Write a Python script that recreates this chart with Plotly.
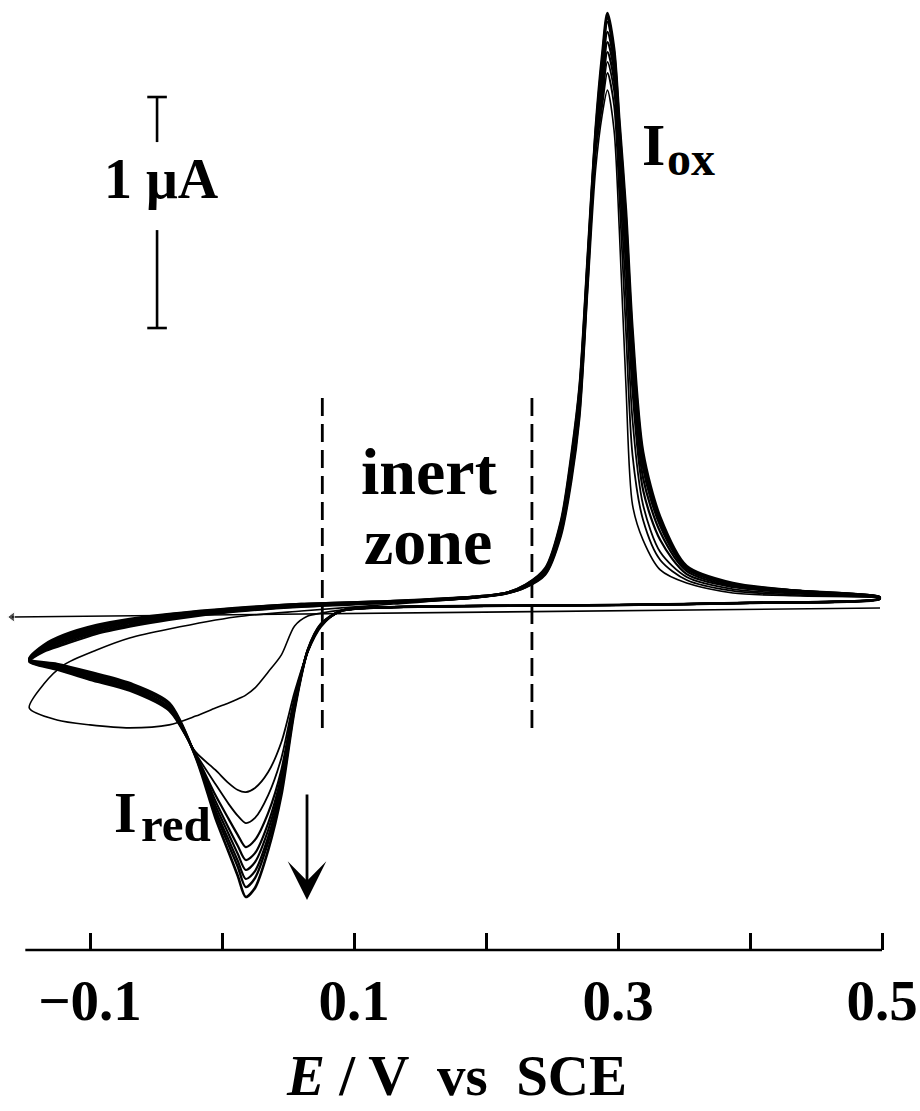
import plotly.graph_objects as go

# ---------------- data (E in V vs SCE, I in uA) ----------------
E_ANODIC = [-0.146, -0.135, -0.12, -0.095, -0.07, -0.04, 0.01, 0.06, 0.13, 0.19, 0.215, 0.23,
            0.245, 0.257, 0.265, 0.271, 0.277, 0.283, 0.288, 0.292, 0.297, 0.301, 0.306, 0.311,
            0.319, 0.332, 0.352, 0.387, 0.438, 0.498]
E_CATHODIC = [0.498, 0.40, 0.30, 0.20, 0.13, 0.09, 0.075, 0.065, 0.055, 0.045, 0.035, 0.025,
              0.018, 0.012, 0.005, -0.005, -0.02, -0.04, -0.07, -0.10, -0.125, -0.146]

I_AN_1 = [-0.433, -0.329, -0.247, -0.182, -0.130, -0.091, -0.039, -0.013, 0.017, 0.043, 0.061, 0.087, 0.143, 0.312, 0.554, 0.823, 1.368, 1.896, 2.134, 2.242, 2.069, 1.636, 0.965, 0.446, 0.294, 0.165, 0.108, 0.065, 0.052, 0.043]
I_AN_2 = [-0.234, -0.190, -0.160, -0.113, -0.082, -0.052, -0.017, 0.004, 0.022, 0.043, 0.061, 0.089, 0.147, 0.325, 0.576, 0.848, 1.394, 1.961, 2.173, 2.316, 2.177, 1.788, 1.203, 0.662, 0.381, 0.208, 0.121, 0.074, 0.056, 0.043]
I_AN_3 = [-0.232, -0.186, -0.154, -0.108, -0.078, -0.048, -0.015, 0.006, 0.024, 0.043, 0.063, 0.091, 0.152, 0.333, 0.593, 0.870, 1.420, 1.983, 2.199, 2.364, 2.242, 1.874, 1.355, 0.814, 0.446, 0.242, 0.134, 0.082, 0.061, 0.045]
I_AN_4 = [-0.229, -0.182, -0.147, -0.104, -0.074, -0.043, -0.013, 0.009, 0.026, 0.045, 0.063, 0.093, 0.156, 0.342, 0.610, 0.892, 1.442, 2.000, 2.234, 2.407, 2.286, 1.939, 1.485, 0.944, 0.511, 0.294, 0.147, 0.091, 0.065, 0.045]
I_AN_5 = [-0.227, -0.177, -0.143, -0.097, -0.067, -0.039, -0.009, 0.011, 0.026, 0.045, 0.065, 0.095, 0.160, 0.351, 0.623, 0.909, 1.463, 2.013, 2.268, 2.450, 2.329, 1.991, 1.558, 1.030, 0.563, 0.329, 0.160, 0.095, 0.069, 0.048]
I_AN_6 = [-0.225, -0.173, -0.136, -0.091, -0.061, -0.035, -0.006, 0.013, 0.028, 0.048, 0.065, 0.095, 0.165, 0.359, 0.636, 0.926, 1.481, 2.026, 2.307, 2.494, 2.364, 2.035, 1.615, 1.095, 0.606, 0.355, 0.169, 0.100, 0.069, 0.048]
I_AN_7 = [-0.225, -0.169, -0.130, -0.087, -0.056, -0.032, -0.004, 0.015, 0.028, 0.048, 0.065, 0.097, 0.167, 0.368, 0.649, 0.944, 1.494, 2.043, 2.346, 2.537, 2.394, 2.069, 1.658, 1.139, 0.632, 0.372, 0.173, 0.104, 0.074, 0.048]
I_AN_8 = [-0.223, -0.165, -0.123, -0.080, -0.052, -0.028, -0.002, 0.017, 0.030, 0.048, 0.065, 0.100, 0.169, 0.374, 0.662, 0.957, 1.506, 2.056, 2.372, 2.558, 2.407, 2.091, 1.688, 1.169, 0.654, 0.381, 0.177, 0.104, 0.074, 0.048]
I_AN_9 = [-0.221, -0.160, -0.117, -0.074, -0.048, -0.026, 0.000, 0.017, 0.030, 0.048, 0.065, 0.100, 0.173, 0.381, 0.675, 0.965, 1.515, 2.069, 2.394, 2.576, 2.424, 2.113, 1.723, 1.203, 0.675, 0.394, 0.182, 0.108, 0.074, 0.048]

I_CA_1 = [0.039, 0.022, 0.013, 0.009, 0.004, -0.009, -0.022, -0.035, -0.078, -0.203, -0.277, -0.346, -0.377, -0.394, -0.411, -0.433, -0.468, -0.506, -0.519, -0.506, -0.485, -0.433]
I_CA_2 = [0.039, 0.022, 0.013, 0.009, 0.004, -0.013, -0.082, -0.190, -0.364, -0.580, -0.710, -0.779, -0.797, -0.788, -0.758, -0.701, -0.623, -0.446, -0.359, -0.312, -0.268, -0.234]
I_CA_3 = [0.039, 0.022, 0.013, 0.009, 0.004, -0.013, -0.078, -0.188, -0.385, -0.649, -0.810, -0.909, -0.931, -0.900, -0.848, -0.762, -0.630, -0.442, -0.355, -0.307, -0.264, -0.232]
I_CA_4 = [0.039, 0.022, 0.013, 0.009, 0.004, -0.013, -0.076, -0.186, -0.403, -0.701, -0.887, -1.004, -1.035, -0.983, -0.913, -0.810, -0.634, -0.437, -0.351, -0.303, -0.260, -0.229]
I_CA_5 = [0.039, 0.022, 0.013, 0.009, 0.004, -0.013, -0.074, -0.184, -0.416, -0.727, -0.931, -1.061, -1.091, -1.030, -0.952, -0.835, -0.636, -0.433, -0.346, -0.299, -0.255, -0.227]
I_CA_6 = [0.039, 0.022, 0.013, 0.009, 0.004, -0.013, -0.074, -0.184, -0.420, -0.749, -0.961, -1.100, -1.134, -1.065, -0.978, -0.855, -0.639, -0.429, -0.342, -0.294, -0.253, -0.225]
I_CA_7 = [0.039, 0.022, 0.013, 0.009, 0.004, -0.013, -0.071, -0.184, -0.429, -0.771, -0.991, -1.139, -1.173, -1.095, -1.004, -0.874, -0.641, -0.420, -0.338, -0.290, -0.251, -0.225]
I_CA_8 = [0.039, 0.022, 0.013, 0.009, 0.004, -0.013, -0.071, -0.182, -0.433, -0.788, -1.013, -1.169, -1.208, -1.121, -1.026, -0.887, -0.643, -0.416, -0.331, -0.284, -0.247, -0.223]
I_CA_9 = [0.039, 0.022, 0.013, 0.009, 0.004, -0.013, -0.069, -0.182, -0.442, -0.810, -1.048, -1.212, -1.251, -1.160, -1.056, -0.909, -0.645, -0.411, -0.325, -0.277, -0.242, -0.221]

# straight reference sweep with arrow at the left end
BASE_E = [-0.159, 0.4985]
BASE_I = [-0.039, 0.000]

# inert-zone limits and their vertical extent
INERT_E = [0.076, 0.2348]
INERT_I = [0.909, -0.537]

# 1 uA scale bar
BAR_E = -0.0492
BAR_TOP = [2.212, 2.017]
BAR_BOT = [1.636, 1.212]

TICK_VALS = [-0.1, 0.0, 0.1, 0.2, 0.3, 0.4, 0.5]
TICK_TEXT = ["\u22120.1", "", "0.1", "", "0.3", "", "0.5"]

ANODIC = [I_AN_1, I_AN_2, I_AN_3, I_AN_4, I_AN_5, I_AN_6, I_AN_7, I_AN_8, I_AN_9]
CATHODIC = [I_CA_1, I_CA_2, I_CA_3, I_CA_4, I_CA_5, I_CA_6, I_CA_7, I_CA_8, I_CA_9]
WIDTHS = [1.6, 1.8, 1.8, 2.2, 2.2, 2.2, 2.2, 2.4, 2.6]

SERIF = "Liberation Serif"

fig = go.Figure()

# baseline sweep
fig.add_trace(go.Scatter(x=BASE_E, y=BASE_I, mode="lines+markers",
                         line=dict(color="black", width=1.6),
                         marker=dict(symbol=["triangle-left", "circle"], size=[9, 0], color="black"),
                         hoverinfo="skip"))

for an, ca, w in zip(ANODIC, CATHODIC, WIDTHS):
    fig.add_trace(go.Scatter(x=E_ANODIC + E_CATHODIC, y=an + ca, mode="lines",
                             line=dict(color="black", width=w, shape="spline", smoothing=0.8),
                             hoverinfo="skip"))

# dashed inert-zone lines
for e in INERT_E:
    fig.add_trace(go.Scatter(x=[e, e], y=INERT_I, mode="lines",
                             line=dict(color="black", width=2.8, dash="18px,8px"),
                             hoverinfo="skip"))

# scale bar
for seg in (BAR_TOP, BAR_BOT):
    fig.add_trace(go.Scatter(x=[BAR_E, BAR_E], y=seg, mode="lines",
                             line=dict(color="black", width=2.6), hoverinfo="skip"))
fig.add_trace(go.Scatter(x=[BAR_E, BAR_E], y=[BAR_TOP[0], BAR_BOT[1]], mode="markers",
                         marker=dict(symbol="line-ew", size=14, line=dict(color="black", width=2.6)),
                         hoverinfo="skip"))

# axis line across the scanned range
fig.add_shape(type="line", xref="x", yref="paper", x0=-0.149, x1=0.5, y0=0, y1=0,
              line=dict(color="black", width=2.6))

def txt(x, y, s, size, xanchor="center", yanchor="middle", yref="y"):
    fig.add_annotation(x=x, y=y, xref="x", yref=yref, text=s, showarrow=False,
                       xanchor=xanchor, yanchor=yanchor,
                       font=dict(family=SERIF, size=size, color="black"))

txt(-0.0455, 1.857, "<b>1 \u03bcA</b>", 56)
txt(0.1568, 0.593, "<b>inert</b>", 66)
txt(0.1557, 0.290, "<b>zone</b>", 66)
txt(0.3167, 2.004, "<b>I</b>", 60, xanchor="left")
txt(0.3355, 1.948, "<b>ox</b>", 48, xanchor="left")
txt(-0.0830, -0.885, "<b>I</b>", 58, xanchor="left")
txt(-0.0630, -0.939, "<b>red</b>", 49, xanchor="left")
# axis title (below the plot area, in paper units)
txt(0.178, -0.1316, "<b><i>E</i> / V \u00a0vs \u00a0SCE</b>", 57, yref="paper")

# growth arrow
fig.add_annotation(x=0.0644, y=-1.264, ax=0.0644, ay=-0.801, xref="x", yref="y",
                   axref="x", ayref="y", text="", showarrow=True,
                   arrowhead=3, arrowsize=2.3, arrowwidth=2.8, arrowcolor="black")

fig.update_layout(
    width=920, height=1111,
    margin=dict(l=6, r=30, t=0, b=161),
    plot_bgcolor="white", paper_bgcolor="white",
    showlegend=False,
    xaxis=dict(range=[-0.16364, 0.50606], tickvals=TICK_VALS,
               ticktext=["<b>%s</b>" % t if t else "" for t in TICK_TEXT],
               ticks="inside", ticklen=17, tickwidth=2.6, tickcolor="black",
               showline=False, showgrid=False, zeroline=False, automargin=False,
               ticklabelstandoff=12,
               tickfont=dict(family=SERIF, size=57, color="black")),
    yaxis=dict(range=[-1.4805, 2.632], visible=False, fixedrange=True),
)

fig.write_html("out.html")
